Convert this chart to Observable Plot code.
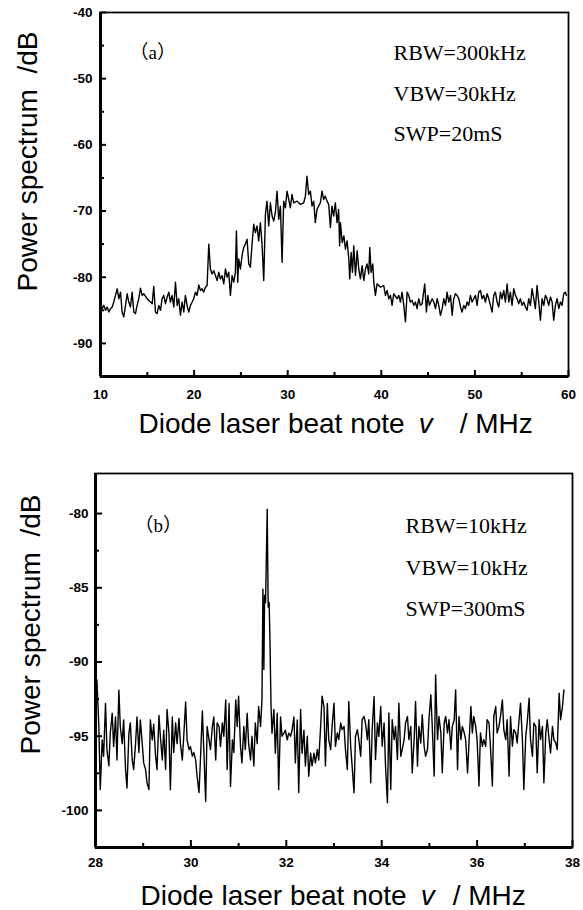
<!DOCTYPE html>
<html><head><meta charset="utf-8">
<script src="https://cdn.jsdelivr.net/npm/d3@7"></script>
<script src="https://cdn.jsdelivr.net/npm/@observablehq/plot@0.6"></script>
<style>
body{margin:0;background:#fff;}
#wrap{position:relative;width:583px;height:910px;background:#fff;}
#wrap svg{display:block;}
#wrap svg [aria-label$="tick label"] text{font-weight:700;font-size:13.5px;font-family:'Liberation Sans',Arial,sans-serif;}
</style></head><body><div id="wrap"></div>
<script>
// Panel (a): beat note spectrum, [frequency MHz, power dB]
const spectrumA = [[10.00,-84.0],[10.18,-84.75],[10.36,-84.25],[10.53,-85.0],[10.71,-84.5],[10.89,-85.25],[11.07,-84.75],[11.25,-84.5],[11.42,-83.75],[11.60,-82.75],[11.78,-81.75],[11.96,-83.25],[12.14,-82.25],[12.31,-85.25],[12.49,-86.0],[12.67,-84.25],[12.85,-82.5],[13.02,-83.75],[13.20,-84.5],[13.38,-82.25],[13.56,-85.25],[13.74,-85.5],[13.91,-84.25],[14.09,-83.25],[14.27,-81.65],[14.45,-82.75],[14.63,-82.5],[14.98,-83.25],[15.16,-83.5],[15.34,-83.75],[15.52,-84.0],[15.69,-81.4],[15.87,-85.25],[16.05,-85.5],[16.23,-84.25],[16.41,-85.0],[16.58,-83.25],[16.76,-82.75],[16.94,-84.0],[17.12,-83.0],[17.30,-82.25],[17.47,-83.75],[17.65,-82.75],[17.83,-84.5],[18.01,-80.75],[18.19,-84.25],[18.36,-83.25],[18.54,-85.75],[18.72,-83.75],[18.90,-85.25],[19.07,-82.75],[19.25,-84.25],[19.43,-85.25],[19.61,-84.25],[19.79,-83.75],[19.96,-83.25],[20.14,-82.25],[20.32,-82.75],[20.50,-81.15],[20.68,-82.0],[20.85,-81.75],[21.03,-82.25],[21.21,-81.5],[21.39,-81.25],[21.57,-75.0],[21.74,-78.75],[21.92,-79.5],[22.10,-79.0],[22.28,-79.75],[22.46,-80.5],[22.63,-79.25],[22.81,-80.25],[22.99,-79.75],[23.17,-81.0],[23.35,-78.75],[23.52,-80.0],[23.70,-79.25],[23.88,-82.75],[24.06,-79.75],[24.23,-80.75],[24.41,-79.25],[24.52,-73.0],[24.66,-80.75],[24.77,-77.25],[24.95,-78.75],[25.12,-76.75],[25.30,-75.5],[25.48,-75.0],[25.66,-74.25],[25.84,-78.0],[26.01,-78.5],[26.19,-75.0],[26.37,-72.0],[26.55,-73.25],[26.73,-72.25],[26.90,-74.5],[27.08,-71.75],[27.26,-75.0],[27.44,-80.5],[27.62,-70.5],[27.79,-68.5],[27.97,-72.25],[28.15,-68.75],[28.33,-70.75],[28.51,-71.5],[28.68,-70.25],[28.86,-67.0],[29.04,-71.25],[29.22,-69.25],[29.40,-77.75],[29.57,-68.5],[29.75,-69.5],[29.93,-67.0],[30.11,-68.25],[30.28,-69.5],[30.46,-67.5],[30.64,-68.75],[31.00,-68.5],[31.35,-69.0],[31.71,-68.75],[31.89,-67.75],[32.06,-64.75],[32.24,-67.5],[32.42,-67.0],[32.60,-69.25],[32.78,-68.5],[32.95,-71.75],[33.13,-69.75],[33.49,-68.75],[33.67,-67.0],[33.84,-68.25],[34.02,-67.75],[34.20,-68.5],[34.38,-69.0],[34.56,-72.5],[34.73,-69.25],[34.91,-70.75],[35.09,-68.75],[35.27,-71.75],[35.44,-69.75],[35.55,-75.25],[35.64,-71.75],[35.82,-74.75],[36.00,-73.75],[36.17,-75.75],[36.35,-74.5],[36.53,-77.25],[36.63,-80.25],[36.78,-76.25],[36.92,-79.25],[37.06,-75.25],[37.24,-79.75],[37.42,-76.0],[37.59,-78.75],[37.77,-80.25],[37.95,-78.25],[38.13,-80.5],[38.31,-78.75],[38.48,-78.0],[38.66,-79.5],[38.77,-75.5],[38.91,-79.25],[39.09,-78.0],[39.20,-80.75],[39.37,-82.75],[39.55,-81.0],[39.91,-81.5],[40.26,-81.25],[40.44,-82.75],[40.62,-82.0],[40.80,-83.25],[40.98,-82.75],[41.15,-84.25],[41.33,-82.5],[41.69,-83.25],[41.87,-82.75],[42.04,-83.75],[42.22,-82.25],[42.40,-84.25],[42.58,-86.75],[42.76,-82.25],[42.93,-82.75],[43.11,-83.75],[43.29,-83.5],[43.47,-84.25],[43.65,-83.75],[43.82,-84.75],[44.00,-83.25],[44.18,-84.25],[44.36,-84.0],[44.64,-81.0],[44.82,-85.25],[44.97,-82.75],[45.14,-84.25],[45.43,-83.25],[45.61,-83.75],[45.79,-84.75],[45.97,-83.25],[46.14,-84.25],[46.32,-85.75],[46.50,-84.75],[46.68,-83.25],[46.86,-84.25],[47.03,-82.25],[47.21,-83.75],[47.39,-82.75],[47.57,-85.75],[47.74,-83.25],[47.92,-82.5],[48.10,-82.75],[48.28,-83.25],[48.46,-84.5],[48.63,-85.25],[48.81,-84.25],[48.99,-84.75],[49.17,-83.75],[49.34,-84.25],[49.52,-82.75],[49.70,-83.75],[49.88,-83.25],[50.06,-82.75],[50.23,-84.25],[50.41,-82.25],[50.59,-82.0],[50.77,-83.25],[50.95,-82.75],[51.12,-83.75],[51.30,-82.5],[51.48,-83.25],[51.66,-84.25],[51.84,-85.25],[52.01,-82.75],[52.19,-82.25],[52.37,-83.75],[52.55,-84.5],[52.73,-82.25],[52.90,-83.25],[53.08,-82.0],[53.26,-83.75],[53.44,-81.0],[53.62,-83.75],[53.79,-82.25],[53.97,-84.25],[54.15,-81.75],[54.33,-82.75],[54.51,-83.25],[54.68,-84.0],[54.86,-83.25],[55.04,-84.25],[55.22,-83.75],[55.40,-84.5],[55.57,-85.0],[55.75,-83.25],[55.93,-84.25],[56.11,-81.75],[56.29,-83.25],[56.46,-84.75],[56.64,-81.25],[56.82,-83.75],[57.00,-86.5],[57.18,-83.25],[57.36,-84.25],[57.53,-82.75],[57.71,-83.25],[57.89,-84.25],[58.07,-83.0],[58.25,-83.75],[58.42,-86.5],[58.60,-84.25],[58.78,-83.25],[58.96,-84.75],[59.14,-83.75],[59.31,-84.25],[59.49,-82.5],[59.67,-82.25],[59.77,-82.75]];

// Panel (b): narrow span spectrum, [frequency MHz, power dB]
const spectrumB = [[28.03,-91.2],[28.07,-94.35],[28.10,-98.6],[28.14,-95.25],[28.17,-96.35],[28.21,-92.8],[28.24,-95.9],[28.28,-97.0],[28.31,-94.8],[28.35,-93.45],[28.38,-95.7],[28.42,-93.7],[28.45,-96.6],[28.49,-91.9],[28.52,-94.35],[28.56,-95.5],[28.59,-93.9],[28.63,-97.25],[28.66,-98.5],[28.70,-94.8],[28.73,-94.1],[28.77,-96.6],[28.80,-97.25],[28.84,-95.5],[28.87,-93.7],[28.91,-96.1],[28.94,-93.9],[28.98,-95.5],[29.01,-96.8],[29.05,-97.25],[29.08,-98.15],[29.12,-98.6],[29.15,-93.9],[29.19,-95.25],[29.22,-94.2],[29.26,-96.35],[29.29,-97.25],[29.33,-93.6],[29.36,-95.0],[29.40,-96.6],[29.43,-94.6],[29.47,-97.25],[29.50,-93.2],[29.54,-94.8],[29.57,-98.6],[29.61,-93.7],[29.64,-96.1],[29.68,-94.1],[29.71,-95.5],[29.75,-93.8],[29.78,-95.5],[29.82,-96.6],[29.85,-95.0],[29.89,-92.7],[29.92,-95.25],[29.96,-95.9],[29.99,-95.7],[30.03,-96.35],[30.06,-96.1],[30.10,-96.6],[30.13,-97.7],[30.17,-98.8],[30.20,-96.6],[30.24,-93.3],[30.27,-95.9],[30.31,-99.4],[30.34,-94.35],[30.38,-95.25],[30.41,-95.9],[30.45,-94.35],[30.48,-93.7],[30.52,-96.6],[30.55,-94.1],[30.59,-94.35],[30.62,-95.7],[30.66,-94.1],[30.69,-95.0],[30.73,-92.55],[30.76,-97.25],[30.80,-92.8],[30.83,-98.4],[30.87,-95.25],[30.90,-96.1],[30.94,-92.55],[30.97,-94.35],[31.00,-92.3],[31.04,-95.7],[31.07,-96.8],[31.11,-94.35],[31.14,-95.9],[31.18,-93.45],[31.21,-95.5],[31.25,-96.6],[31.28,-95.0],[31.32,-97.0],[31.35,-94.1],[31.39,-95.5],[31.42,-93.0],[31.46,-94.35],[31.49,-92.55],[31.51,-85.1],[31.53,-90.5],[31.545,-85.5],[31.565,-86.0],[31.60,-79.7],[31.62,-86.3],[31.64,-86.0],[31.655,-88.1],[31.68,-93.0],[31.70,-94.8],[31.74,-93.2],[31.77,-96.15],[31.81,-93.45],[31.84,-98.6],[31.88,-93.7],[31.91,-95.0],[31.95,-94.8],[31.98,-94.6],[32.02,-95.25],[32.05,-94.8],[32.09,-95.0],[32.12,-94.6],[32.16,-93.7],[32.19,-96.8],[32.23,-93.9],[32.26,-98.8],[32.30,-93.2],[32.33,-96.15],[32.37,-94.6],[32.40,-97.0],[32.44,-95.0],[32.47,-97.7],[32.51,-96.15],[32.54,-97.0],[32.58,-96.15],[32.61,-96.8],[32.65,-95.9],[32.68,-96.6],[32.72,-94.35],[32.75,-92.3],[32.79,-93.0],[32.82,-97.0],[32.86,-92.8],[32.89,-95.25],[32.93,-95.9],[32.96,-94.34],[33.00,-92.77],[33.03,-95.68],[33.07,-94.78],[33.10,-95.23],[33.14,-94.11],[33.17,-94.56],[33.21,-94.34],[33.24,-95.9],[33.28,-97.25],[33.31,-92.66],[33.35,-95.68],[33.38,-97.02],[33.42,-98.81],[33.45,-95.01],[33.49,-94.56],[33.52,-95.23],[33.56,-96.35],[33.59,-93.89],[33.63,-93.67],[33.66,-94.11],[33.70,-95.23],[33.73,-93.89],[33.77,-98.14],[33.80,-94.56],[33.84,-92.32],[33.87,-96.57],[33.91,-94.11],[33.94,-95.01],[33.98,-93.0],[34.01,-95.68],[34.05,-94.11],[34.08,-97.02],[34.12,-99.48],[34.15,-93.44],[34.19,-98.59],[34.22,-93.89],[34.26,-95.23],[34.29,-94.34],[34.33,-96.57],[34.36,-92.77],[34.40,-96.35],[34.43,-95.9],[34.47,-95.23],[34.50,-94.11],[34.54,-93.67],[34.57,-95.23],[34.61,-94.34],[34.64,-97.47],[34.68,-95.23],[34.71,-92.66],[34.75,-97.02],[34.78,-94.34],[34.82,-95.46],[34.85,-93.55],[34.89,-95.68],[34.92,-96.35],[34.96,-95.9],[34.99,-93.89],[35.03,-92.21],[35.06,-94.34],[35.10,-97.69],[35.13,-90.87],[35.17,-95.23],[35.20,-93.67],[35.24,-94.78],[35.27,-97.47],[35.31,-94.11],[35.34,-93.67],[35.38,-94.78],[35.41,-93.89],[35.45,-95.9],[35.48,-94.34],[35.52,-93.89],[35.55,-91.88],[35.59,-97.25],[35.62,-93.67],[35.66,-95.23],[35.69,-94.34],[35.73,-94.78],[35.76,-95.23],[35.80,-97.47],[35.83,-95.46],[35.87,-93.0],[35.90,-94.78],[35.93,-93.67],[35.97,-94.34],[36.00,-95.23],[36.04,-98.36],[36.07,-94.78],[36.11,-95.68],[36.14,-95.23],[36.18,-95.68],[36.21,-93.89],[36.25,-94.11],[36.28,-95.68],[36.32,-98.36],[36.35,-93.67],[36.39,-93.0],[36.42,-94.78],[36.46,-94.34],[36.49,-93.67],[36.53,-92.55],[36.56,-94.56],[36.60,-95.23],[36.63,-93.89],[36.67,-97.69],[36.70,-93.67],[36.74,-95.68],[36.77,-94.56],[36.81,-94.78],[36.84,-95.46],[36.88,-93.89],[36.91,-92.77],[36.95,-95.23],[36.98,-98.59],[37.02,-95.01],[37.05,-94.11],[37.09,-92.44],[37.12,-95.23],[37.16,-96.35],[37.19,-94.11],[37.23,-94.34],[37.26,-97.47],[37.30,-93.89],[37.33,-95.23],[37.37,-94.34],[37.40,-98.14],[37.44,-94.78],[37.47,-93.89],[37.51,-95.23],[37.54,-96.13],[37.58,-94.34],[37.61,-95.23],[37.65,-95.46],[37.68,-95.9],[37.72,-92.1],[37.75,-93.89],[37.79,-93.0],[37.82,-91.88]];

const xDomainA = [10, 60];
const yDomainA = [-95, -40];
const xTicksA = [10, 20, 30, 40, 50, 60];
const xMinorA = [15, 25, 35, 45, 55];
const yTicksA = [-90, -80, -70, -60, -50, -40];
const yMinorA = [-85, -75, -65, -55, -45];

const xDomainB = [28, 38];
const yDomainB = [-102.5, -77.3];
const xTicksB = [28, 30, 32, 34, 36, 38];
const xMinorB = [29, 31, 33, 35, 37];
const yTicksB = [-100, -95, -90, -85, -80];
const yMinorB = [-97.5, -92.5, -87.5, -82.5];

const notesA = ["RBW=300kHz", "VBW=30kHz", "SWP=20mS"];
const notesB = ["RBW=10kHz", "VBW=10kHz", "SWP=300mS"];
const tagA = "（a）";
const tagB = "（b）";
const yTitle = "Power spectrum  /dB";
const xTitleParts = ["Diode laser beat note", "v", "/ MHz"];

const SANS = "'Liberation Sans', Arial, Helvetica, sans-serif";
const SERIF = "'Liberation Serif', 'Times New Roman', serif";

function panel(c) {
  const iw = c.W - c.ml - c.mr, ih = c.H - c.mt - c.mb;
  const data = c.data.map(([f, p]) => ({f, p}));
  const svg = Plot.plot({
    width: c.W, height: c.H,
    marginTop: c.mt, marginBottom: c.mb, marginLeft: c.ml, marginRight: c.mr,
    x: {domain: c.xd}, y: {domain: c.yd},
    style: `font-family: ${SANS}; font-size: 13px; font-weight: bold; background: #fff; color: #000; overflow: visible;`,
    marks: [
      Plot.line(data, {x: "f", y: "p", stroke: "#000", strokeWidth: 1.4, strokeLinejoin: "round"}),
      Plot.tickY(c.yt, {y: d => d, insetRight: iw - c.majY, strokeWidth: 2}),
      Plot.tickY(c.ym, {y: d => d, insetRight: iw - c.minY, strokeWidth: 2}),
      Plot.tickX(c.xt, {x: d => d, insetTop: ih - c.majX, strokeWidth: 2}),
      Plot.tickX(c.xm, {x: d => d, insetTop: ih - c.minX, strokeWidth: 2}),
      Plot.frame({stroke: "#000", strokeWidth: 1.8}),
      Plot.ruleX([c.xd[0]], {strokeWidth: 3}),
      Plot.ruleY([c.yd[0]], {strokeWidth: 3}),
      Plot.axisY({ticks: c.yt, tickSize: 0, tickPadding: c.yPad, tickFormat: d => String(d), label: null, fontFamily: SANS, fontWeight: "bold", fontSize: 13}),
      Plot.axisX({ticks: c.xt, tickSize: 0, tickPadding: c.xPad, tickFormat: d => String(d), label: null, fontFamily: SANS, fontWeight: "bold", fontSize: 13}),
      Plot.text([c.notes.join("\n")], {frameAnchor: "top-left", dx: c.nDx, dy: c.nDy, textAnchor: "start", lineAnchor: "top", lineHeight: c.lh, fontFamily: SERIF, fontSize: 22, fontWeight: "normal"}),
      Plot.text([c.tag], {frameAnchor: "top-left", dx: c.tDx, dy: c.tDy, textAnchor: "start", lineAnchor: "middle", fontFamily: "'Liberation Serif', 'Noto Sans CJK SC', serif", fontSize: 19, fontWeight: "normal"}),
      Plot.text([yTitle], {frameAnchor: "left", rotate: -90, dx: c.ytDx, dy: c.ytDy, textAnchor: "middle", lineAnchor: "middle", fontFamily: SANS, fontSize: 28, fontWeight: "normal"}),
      Plot.text([xTitleParts.join(" ")], {frameAnchor: "bottom-left", dx: c.xtDx, dy: c.xtDy, textAnchor: "start", lineAnchor: "middle", fontFamily: SANS, fontSize: 28, fontWeight: "normal"})
    ]
  });
  // italic "v" in the x title
  const full = xTitleParts.join(" ");
  svg.querySelectorAll("text").forEach(t => {
    if (t.textContent === full) {
      t.textContent = "";
      t.append(xTitleParts[0]);
      const ns = "http://www.w3.org/2000/svg";
      const v = document.createElementNS(ns, "tspan");
      v.setAttribute("dx", c.g1); v.setAttribute("font-style", "italic"); v.textContent = xTitleParts[1];
      const r = document.createElementNS(ns, "tspan");
      r.setAttribute("dx", c.g2); r.textContent = xTitleParts[2];
      t.append(v, r);
    }
  });
  return svg;
}

const wrap = document.getElementById("wrap");
wrap.append(panel({
  W: 583, H: 455, mt: 12, mb: 79, ml: 100, mr: 15,
  xd: xDomainA, yd: yDomainA, data: spectrumA,
  xt: xTicksA, xm: xMinorA, yt: yTicksA, ym: yMinorA,
  majY: 6, minY: 4, majX: 6, minX: 4, xPad: 13, yPad: 8,
  notes: notesA, nDx: 293, nDy: 19, lh: 1.84,
  tag: tagA, tDx: 29, tDy: 40,
  ytDx: -72, ytDy: -33, xtDx: 38, xtDy: 48, g1: 14, g2: 27
}));
wrap.append(panel({
  W: 583, H: 455, mt: 18, mb: 63, ml: 95, mr: 11,
  xd: xDomainB, yd: yDomainB, data: spectrumB,
  xt: xTicksB, xm: xMinorB, yt: yTicksB, ym: yMinorB,
  majY: 7, minY: 4, majX: 7, minX: 4, xPad: 10, yPad: 7,
  notes: notesB, nDx: 310, nDy: 30, lh: 1.89,
  tag: tagB, tDx: 39, tDy: 52,
  ytDx: -64, ytDy: -36, xtDx: 45, xtDy: 49, g1: 14, g2: 18
}));
</script>
</body></html>
